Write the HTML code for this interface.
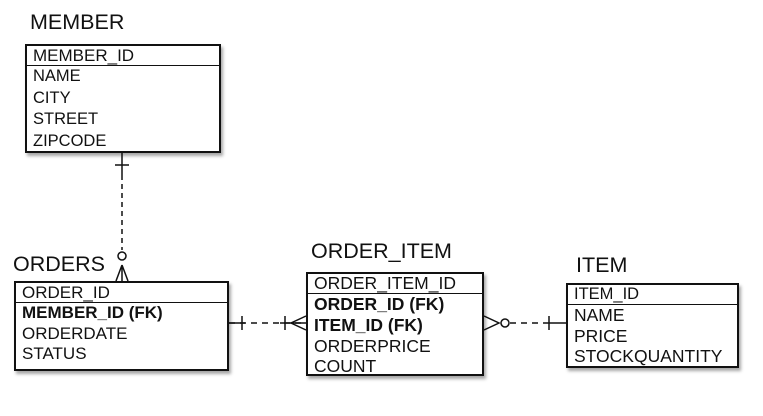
<!DOCTYPE html><html><head><style>
body{margin:0;width:763px;height:416px;background:#fff;position:relative;font-family:"Liberation Sans",sans-serif;color:#111;overflow:hidden}
.t{position:absolute;font-size:21.5px}
.b{position:absolute;border:2px solid #111;box-shadow:2px 3px 3px rgba(0,0,0,.35);background:#fff;box-sizing:border-box;white-space:nowrap}
.h{border-bottom:1.5px solid #111;padding-left:6px}
.r{padding-left:6px}
</style></head><body>
<div class="t" style="left:30px;top:10px">MEMBER</div>
<div class="b" style="left:25px;top:44px;width:196px;height:109px;font-size:17px;line-height:19px">
<div class="h" style="height:19px">MEMBER_ID</div>
<div class="r" style="line-height:21.5px;font-size:16.5px">NAME<br>CITY<br>STREET<br>ZIPCODE</div></div>

<div class="t" style="left:13px;top:252px">ORDERS</div>
<div class="b" style="left:14px;top:281px;width:215px;height:90px;font-size:17px;line-height:20.5px">
<div class="h" style="height:19px;line-height:19px">ORDER_ID</div>
<div class="r"><b>MEMBER_ID (FK)</b><br>ORDERDATE<br>STATUS</div></div>

<div class="t" style="left:311px;top:239px">ORDER_ITEM</div>
<div class="b" style="left:306px;top:272px;width:178px;height:104px;font-size:17.5px;line-height:20.8px">
<div class="h" style="height:19px;line-height:19px">ORDER_ITEM_ID</div>
<div class="r"><b>ORDER_ID (FK)</b><br><b>ITEM_ID (FK)</b><br>ORDERPRICE<br>COUNT</div></div>

<div class="t" style="left:576px;top:253px">ITEM</div>
<div class="b" style="left:566px;top:283px;width:173px;height:85px;font-size:17.5px;line-height:20.5px">
<div class="h" style="height:19px;line-height:19px;font-size:16.5px">ITEM_ID</div>
<div class="r">NAME<br>PRICE<br>STOCKQUANTITY</div></div>

<svg width="763" height="416" style="position:absolute;left:0;top:0" fill="none" stroke="#111" stroke-width="1.5">
<line x1="122" y1="153" x2="122" y2="175"/><line x1="122" y1="175" x2="122" y2="250" stroke-dasharray="5,4"/>
<line x1="115" y1="165" x2="129" y2="165"/>
<circle cx="122" cy="256" r="4" fill="#fff"/>
<path d="M122 265 L116 281 M122 265 L128 281 M122 265 L122 281"/>
<line x1="229" y1="323" x2="306" y2="323" stroke-dasharray="6,5"/>
<line x1="229" y1="323" x2="245" y2="323"/><line x1="242" y1="316" x2="242" y2="330"/>
<line x1="280" y1="323" x2="306" y2="323"/><line x1="285" y1="316" x2="285" y2="330"/>
<path d="M306 316 L291 323 L306 330"/>
<path d="M484 316 L499 323 L484 330"/>
<circle cx="505" cy="323" r="4" fill="#fff"/>
<line x1="510" y1="323" x2="545" y2="323" stroke-dasharray="6,5"/>
<line x1="545" y1="323" x2="566" y2="323"/><line x1="549" y1="316" x2="549" y2="330"/>
</svg>
</body></html>
